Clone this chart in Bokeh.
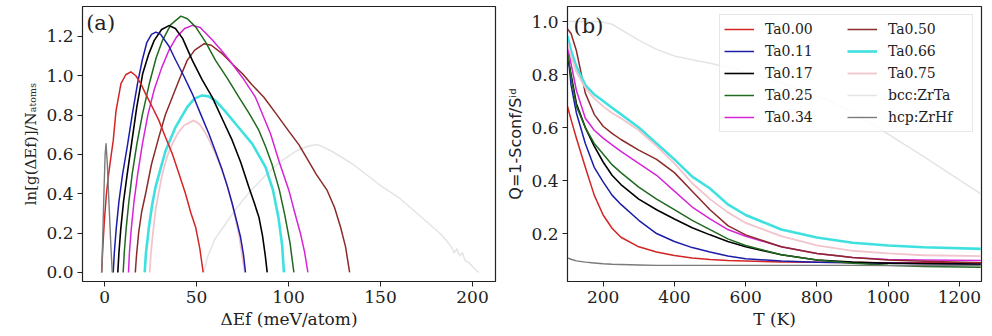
from bokeh.plotting import figure
from bokeh.layouts import row
from bokeh.models import FixedTicker, PrintfTickFormatter, Label
from bokeh.embed import file_html
from bokeh.resources import INLINE

# ---------------- panel (a): ln[g(dE)]/N vs dE (meV/atom) ----------------
a_hcp_x = [-1.5, -0.8, -0.3, 0.3, 0.8, 1.5, 2.5, 3.5, 4.2]
a_hcp_y = [0.0, 0.25, 0.42, 0.6, 0.655, 0.55, 0.33, 0.12, 0.0]

a_ta000_x = [-1.6, -1.0, -0.2, 1.0, 2.2, 3.5, 4.7, 6.2, 8.9, 11.5, 14.3, 17.0, 19.7, 22.3, 26.0, 29.5, 33.0, 36.8, 40.5, 44.0, 47.0, 49.5, 51.8, 53.6]
a_ta000_y = [0.0, 0.12, 0.25, 0.4, 0.5, 0.59, 0.67, 0.82, 0.96, 1.005, 1.02, 1.0, 0.96, 0.908, 0.84, 0.773, 0.69, 0.603, 0.5, 0.4, 0.3, 0.23, 0.12, 0.0]

a_ta011_x = [4.7, 5.3, 6.3, 7.8, 9.8, 12.5, 15.0, 17.9, 20.5, 23.0, 25.5, 27.9, 30.5, 35.0, 38.6, 43.0, 47.7, 52.0, 56.7, 60.5, 64.0, 67.0, 69.4, 71.8, 73.9, 75.5, 76.6]
a_ta011_y = [0.0, 0.1, 0.22, 0.36, 0.5, 0.65, 0.8, 0.96, 1.08, 1.17, 1.21, 1.222, 1.21, 1.15, 1.08, 1.0, 0.908, 0.81, 0.705, 0.61, 0.519, 0.43, 0.349, 0.26, 0.18, 0.09, 0.0]

a_ta017_x = [7.2, 7.8, 8.8, 10.3, 12.3, 14.9, 17.5, 20.7, 24.0, 27.0, 31.0, 35.0, 38.5, 42.4, 47.7, 53.0, 58.5, 64.0, 69.4, 74.0, 78.4, 81.5, 83.9, 85.8, 87.3, 88.4]
a_ta017_y = [0.0, 0.1, 0.22, 0.36, 0.5, 0.67, 0.84, 1.01, 1.11, 1.18, 1.235, 1.255, 1.24, 1.19, 1.078, 0.98, 0.891, 0.78, 0.671, 0.56, 0.434, 0.35, 0.281, 0.19, 0.09, 0.0]

a_ta025_x = [10.1, 10.7, 11.7, 13.2, 15.0, 17.5, 20.5, 24.3, 28.0, 31.5, 36.0, 41.5, 45.0, 49.6, 55.0, 60.3, 66.5, 73.0, 78.5, 83.9, 87.5, 91.0, 95.0, 98.0, 100.8, 102.9]
a_ta025_y = [0.0, 0.1, 0.22, 0.36, 0.5, 0.65, 0.8, 0.959, 1.09, 1.18, 1.26, 1.303, 1.29, 1.247, 1.17, 1.078, 0.99, 0.891, 0.81, 0.722, 0.64, 0.55, 0.42, 0.29, 0.15, 0.0]

a_ta034_x = [13.0, 13.5, 14.5, 16.0, 18.0, 20.5, 23.5, 27.0, 31.0, 35.0, 39.0, 43.5, 47.8, 52.0, 58.7, 63.0, 67.8, 75.0, 82.0, 86.0, 90.2, 95.0, 100.2, 103.5, 106.5, 108.8, 110.5]
a_ta034_y = [0.0, 0.1, 0.22, 0.36, 0.5, 0.65, 0.8, 0.93, 1.04, 1.13, 1.195, 1.24, 1.256, 1.245, 1.18, 1.135, 1.08, 0.99, 0.891, 0.8, 0.705, 0.56, 0.417, 0.3, 0.197, 0.1, 0.0]

a_ta050_x = [16.7, 17.3, 18.5, 20.2, 22.3, 25.5, 29.5, 33.0, 36.8, 41.0, 44.9, 49.0, 54.2, 58.0, 64.1, 70.0, 75.0, 80.0, 86.6, 93.0, 100.0, 105.6, 110.0, 115.0, 121.0, 125.0, 128.3, 131.0, 133.2]
a_ta050_y = [0.0, 0.08, 0.2, 0.31, 0.4, 0.55, 0.688, 0.8, 0.891, 0.99, 1.078, 1.13, 1.163, 1.155, 1.111, 1.055, 1.01, 0.955, 0.891, 0.81, 0.72, 0.65, 0.58, 0.5, 0.417, 0.33, 0.23, 0.13, 0.0]

a_ta066_x = [21.8, 22.5, 24.1, 25.8, 27.7, 30.5, 33.2, 38.6, 44.9, 49.0, 53.1, 56.5, 60.3, 65.5, 71.2, 80.3, 87.5, 91.5, 94.5, 96.5, 97.5]
a_ta066_y = [0.0, 0.1, 0.23, 0.34, 0.434, 0.53, 0.62, 0.739, 0.84, 0.885, 0.9, 0.895, 0.874, 0.82, 0.756, 0.654, 0.535, 0.42, 0.28, 0.14, 0.0]

a_ta075_x = [24.5, 25.2, 26.3, 27.7, 29.5, 31.4, 34.0, 36.8, 40.0, 43.1, 48.5, 51.5, 54.0, 57.0, 60.3, 63.0, 65.8, 69.4, 73.0, 75.7, 76.3]
a_ta075_y = [0.0, 0.1, 0.2, 0.315, 0.41, 0.502, 0.59, 0.654, 0.71, 0.747, 0.773, 0.755, 0.722, 0.67, 0.603, 0.54, 0.468, 0.349, 0.197, 0.027, 0.0]

a_bcc_x = [54.0, 56.0, 60.0, 66.0, 72.1, 79.0, 86.6, 95.0, 104.7, 110.0, 115.6, 122.8, 135.0, 150.0, 160.0, 168.1, 176.0, 182.6, 186.0, 188.5, 190.0, 191.5, 193.0, 194.5, 196.0, 198.0, 200.5, 203.4]
a_bcc_y = [0.0, 0.08, 0.17, 0.25, 0.332, 0.41, 0.485, 0.56, 0.62, 0.64, 0.651, 0.62, 0.55, 0.442, 0.38, 0.315, 0.25, 0.197, 0.16, 0.13, 0.1, 0.12, 0.085, 0.1, 0.06, 0.05, 0.025, 0.0]

# ---------------- panel (b): Q vs T (K) ----------------
b_T = [100, 110, 125, 150, 175, 200, 225, 250, 300, 350, 400, 450, 500, 550, 600, 700, 800, 900, 1000, 1100, 1260]
b_ta000 = [0.68, 0.63, 0.56, 0.45, 0.345, 0.27, 0.22, 0.186, 0.15, 0.13, 0.117, 0.108, 0.102, 0.098, 0.096, 0.093, 0.092, 0.091, 0.09, 0.09, 0.09]
b_ta011 = [0.9, 0.76, 0.655, 0.54, 0.45, 0.395, 0.345, 0.31, 0.25, 0.2, 0.17, 0.147, 0.13, 0.115, 0.105, 0.096, 0.092, 0.09, 0.088, 0.087, 0.085]
b_ta017 = [0.87, 0.8, 0.69, 0.6, 0.53, 0.47, 0.42, 0.385, 0.33, 0.29, 0.255, 0.222, 0.195, 0.17, 0.15, 0.12, 0.1, 0.092, 0.088, 0.086, 0.085]
b_ta025 = [0.89, 0.79, 0.68, 0.6, 0.54, 0.5, 0.46, 0.43, 0.375, 0.33, 0.29, 0.25, 0.215, 0.18, 0.155, 0.12, 0.1, 0.088, 0.08, 0.076, 0.073]
b_ta034 = [0.91, 0.84, 0.74, 0.635, 0.59, 0.56, 0.535, 0.51, 0.465, 0.42, 0.36, 0.3, 0.255, 0.215, 0.19, 0.15, 0.125, 0.11, 0.102, 0.1, 0.098]
b_ta050 = [0.972, 0.955, 0.89, 0.73, 0.65, 0.605, 0.578, 0.555, 0.515, 0.48, 0.43, 0.36, 0.29, 0.23, 0.195, 0.15, 0.125, 0.11, 0.1, 0.095, 0.09]
b_ta066 = [0.945, 0.89, 0.83, 0.76, 0.725, 0.7, 0.675, 0.65, 0.6, 0.54, 0.48, 0.415, 0.37, 0.31, 0.27, 0.215, 0.185, 0.165, 0.155, 0.148, 0.142]
b_ta075 = [0.92, 0.87, 0.81, 0.75, 0.71, 0.68, 0.655, 0.635, 0.59, 0.53, 0.465, 0.39, 0.33, 0.28, 0.24, 0.19, 0.155, 0.135, 0.125, 0.118, 0.115]
b_bcc = [1.0, 1.0, 1.0, 1.0, 1.0, 0.998, 0.99, 0.97, 0.93, 0.895, 0.87, 0.856, 0.843, 0.828, 0.81, 0.77, 0.72, 0.66, 0.575, 0.49, 0.35]
b_hcp = [0.108, 0.103, 0.097, 0.092, 0.089, 0.086, 0.084, 0.083, 0.081, 0.08, 0.08, 0.08, 0.08, 0.08, 0.08, 0.08, 0.08, 0.08, 0.079, 0.079, 0.079]

labels = ["Ta0.00", "Ta0.11", "Ta0.17", "Ta0.25", "Ta0.34", "Ta0.50", "Ta0.66", "Ta0.75", "bcc:ZrTa", "hcp:ZrHf"]
colors = ["#d42424", "#1c1caa", "#000000", "#1f6a1f", "#d624d6", "#8c2a2a", "#3ee0e0", "#f2c4cc", "#e4e4e4", "#7a7a7a"]
widths = [1.5, 1.5, 1.6, 1.5, 1.5, 1.5, 2.6, 1.8, 1.5, 1.4]

SERIF = "DejaVu Serif"


def style(p):
    p.xgrid.grid_line_color = None
    p.ygrid.grid_line_color = None
    p.outline_line_color = "#222222"
    p.outline_line_width = 1.2
    p.background_fill_color = "white"
    p.border_fill_color = "white"
    for ax in (p.xaxis, p.yaxis):
        ax.axis_line_color = "#222222"
        ax.major_tick_line_color = "#222222"
        ax.major_tick_out = 5
        ax.major_tick_in = 0
        ax.minor_tick_line_color = None
        ax.major_label_text_font = SERIF
        ax.major_label_text_font_size = "17px"
        ax.major_label_text_color = "#222222"
        ax.axis_label_text_font = SERIF
        ax.axis_label_text_font_size = "17px"
        ax.axis_label_text_font_style = "normal"
        ax.axis_label_text_color = "#222222"
        ax.major_label_standoff = 4
        ax.axis_label_standoff = 3


# ---------- figure (a) ----------
pa = figure(width=500, height=336, x_range=(-12, 212.5), y_range=(-0.046, 1.352),
            output_backend="svg", toolbar_location=None,
            min_border_left=82, min_border_right=5, min_border_top=6, min_border_bottom=55)
style(pa)
pa.xaxis.ticker = FixedTicker(ticks=[0, 50, 100, 150, 200])
pa.yaxis.ticker = FixedTicker(ticks=[0.0, 0.2, 0.4, 0.6, 0.8, 1.0, 1.2])
pa.yaxis.formatter = PrintfTickFormatter(format="%.1f")
pa.xaxis.axis_label = "ΔEf (meV/atom)"
pa.yaxis.axis_label = "ln[g(ΔEf)]/Nₐₜₒₘₛ"
pa.yaxis.axis_label_text_font_size = "15px"

a_series = [
    (a_bcc_x, a_bcc_y, 8), (a_ta075_x, a_ta075_y, 7), (a_ta066_x, a_ta066_y, 6),
    (a_ta050_x, a_ta050_y, 5), (a_ta034_x, a_ta034_y, 4), (a_ta025_x, a_ta025_y, 3),
    (a_ta017_x, a_ta017_y, 2), (a_ta011_x, a_ta011_y, 1), (a_ta000_x, a_ta000_y, 0),
    (a_hcp_x, a_hcp_y, 9),
]
for xs, ys, i in a_series:
    pa.line(xs, ys, line_color=colors[i], line_width=widths[i], line_join="round")

pa.add_layout(Label(x=-10, y=1.33, text="(a)", text_font=SERIF, text_font_size="21px",
                    text_baseline="top", text_color="#222222"))

# ---------- figure (b) ----------
pb = figure(width=492, height=336, x_range=(100, 1262), y_range=(0.019, 1.057),
            output_backend="svg", toolbar_location=None,
            min_border_left=67, min_border_right=11, min_border_top=6, min_border_bottom=55)
style(pb)
pb.xaxis.ticker = FixedTicker(ticks=[200, 400, 600, 800, 1000, 1200])
pb.yaxis.ticker = FixedTicker(ticks=[0.2, 0.4, 0.6, 0.8, 1.0])
pb.yaxis.formatter = PrintfTickFormatter(format="%.1f")
pb.xaxis.axis_label = "T (K)"
pb.yaxis.axis_label = "Q=1-Sconf/Sⁱᵈ"
pb.yaxis.axis_label_text_font = "DejaVu Sans"
pb.yaxis.axis_label_text_font_size = "16px"

b_vals = [b_ta000, b_ta011, b_ta017, b_ta025, b_ta034, b_ta050, b_ta066, b_ta075, b_bcc, b_hcp]
for i, ys in enumerate(b_vals):
    pb.line(b_T, ys, line_color=colors[i], line_width=widths[i], line_join="round",
            legend_label=labels[i])

leg = pb.legend[0]
leg.ncols = 2
leg.location = "top_right"
leg.margin = 8
leg.padding = 4
leg.spacing = 2
leg.glyph_width = 30
leg.glyph_height = 20
leg.label_height = 20
leg.label_width = 80
leg.label_standoff = 11
leg.label_text_font = SERIF
leg.label_text_font_size = "14px"
leg.label_text_color = "#222222"
leg.border_line_color = "#d0d0d0"
leg.border_line_width = 1
leg.background_fill_alpha = 0.85

pb.add_layout(Label(x=117, y=1.03, text="(b)", text_font=SERIF, text_font_size="21px",
                    text_baseline="top", text_color="#222222"))

layout = row(pa, pb)
open("out.html", "w").write(file_html(layout, INLINE))
